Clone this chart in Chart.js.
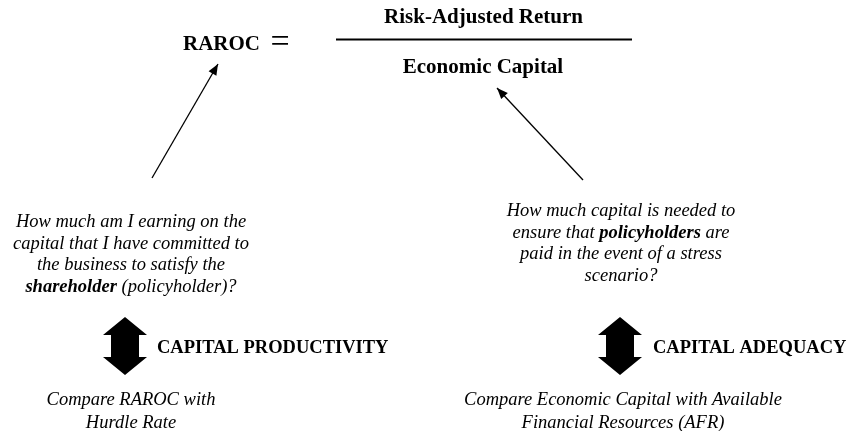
<!DOCTYPE html>
<html>
<head>
<meta charset="utf-8">
<script src="https://cdn.jsdelivr.net/npm/chart.js@4.4.0/dist/chart.umd.min.js"></script>
<style>
  html, body { margin: 0; padding: 0; background: #fff; }
  #wrap { width: 853px; height: 431px; }
</style>
</head>
<body>
<div id="wrap"><canvas id="raroc"></canvas></div>
<script>
// texts of the diagram
const formulaLeft = ['RAROC', '='];
const numerator = 'Risk-Adjusted Return';
const denominator = 'Economic Capital';
const questionLeft = [
    'How much am I earning on the',
    'capital that I have committed to',
    'the business to satisfy the',
    '**shareholder** (policyholder)?'
];
const questionRight = [
    'How much capital is needed to',
    'ensure that **policyholders** are',
    'paid in the event of a stress',
    'scenario?'
];
const measureLabels = ['CAPITAL PRODUCTIVITY', 'CAPITAL ADEQUACY'];
const compareLeft = ['Compare RAROC with', 'Hurdle Rate'];
const compareRight = ['Compare Economic Capital with Available', 'Financial Resources (AFR)'];

// pointer arrows (tail -> tip), in diagram units
const pointerLeft = [{ x: 152, y: 178 }, { x: 218, y: 64 }];
const pointerRight = [{ x: 583, y: 180 }, { x: 497, y: 88 }];

const serif = '"Liberation Serif", "Times New Roman", serif';

// draw a centred line that may contain **bold** parts
function drawRich(ctx, line, cx, y, size) {
    const parts = line.split('**');
    const fonts = parts.map((p, i) => (i % 2 ? 'italic bold ' : 'italic ') + size + 'px ' + serif);
    let total = 0;
    parts.forEach((p, i) => { ctx.font = fonts[i]; total += ctx.measureText(p).width; });
    let x = cx - total / 2;
    ctx.textAlign = 'left';
    parts.forEach((p, i) => {
        ctx.font = fonts[i];
        ctx.fillText(p, x, y);
        x += ctx.measureText(p).width;
    });
}

function arrowHead(ctx, from, to) {
    const a = Math.atan2(to.y - from.y, to.x - from.x);
    const len = 11, w = 4.5;
    ctx.beginPath();
    ctx.moveTo(to.x, to.y);
    ctx.lineTo(to.x - len * Math.cos(a) + w * Math.sin(a), to.y - len * Math.sin(a) - w * Math.cos(a));
    ctx.lineTo(to.x - len * Math.cos(a) - w * Math.sin(a), to.y - len * Math.sin(a) + w * Math.cos(a));
    ctx.closePath();
    ctx.fill();
}

function doubleArrow(ctx, xs, ys, cx, top, bottom) {
    const half = xs(cx + 22) - xs(cx), shaft = xs(cx + 14) - xs(cx);
    const c = xs(cx), t = ys(top), b = ys(bottom);
    const head = ys(top + 18) - t;
    ctx.beginPath();
    ctx.moveTo(c, t);
    ctx.lineTo(c + half, t + head);
    ctx.lineTo(c + shaft, t + head);
    ctx.lineTo(c + shaft, b - head);
    ctx.lineTo(c + half, b - head);
    ctx.lineTo(c, b);
    ctx.lineTo(c - half, b - head);
    ctx.lineTo(c - shaft, b - head);
    ctx.lineTo(c - shaft, t + head);
    ctx.lineTo(c - half, t + head);
    ctx.closePath();
    ctx.fill();
}

const diagramText = {
    id: 'diagramText',
    afterDatasetsDraw(chart) {
        const ctx = chart.ctx;
        const xs = v => chart.scales.x.getPixelForValue(v);
        const ys = v => chart.scales.y.getPixelForValue(v);
        ctx.save();
        ctx.fillStyle = '#000';
        ctx.strokeStyle = '#000';
        ctx.textBaseline = 'alphabetic';

        // formula
        ctx.font = 'bold 21px ' + serif;
        ctx.textAlign = 'left';
        ctx.fillText(formulaLeft[0], xs(183), ys(50));
        ctx.font = '34px ' + serif;
        ctx.textAlign = 'center';
        ctx.fillText(formulaLeft[1], xs(280), ys(52));
        ctx.font = 'bold 21px ' + serif;
        ctx.fillText(numerator, xs(483.5), ys(23));
        ctx.fillText(denominator, xs(483), ys(73));
        ctx.lineWidth = 2;
        ctx.beginPath();
        ctx.moveTo(xs(336), ys(39.5));
        ctx.lineTo(xs(632), ys(39.5));
        ctx.stroke();

        // arrow heads of the pointers
        [pointerLeft, pointerRight].forEach(p => {
            arrowHead(ctx, { x: xs(p[0].x), y: ys(p[0].y) }, { x: xs(p[1].x), y: ys(p[1].y) });
        });

        // questions
        questionLeft.forEach((l, i) => drawRich(ctx, l, xs(131), ys(227 + i * 21.5), 18.5));
        questionRight.forEach((l, i) => drawRich(ctx, l, xs(621), ys(216 + i * 21.5), 18.5));

        // double arrows and measures
        doubleArrow(ctx, xs, ys, 125, 317, 375);
        doubleArrow(ctx, xs, ys, 620, 317, 375);
        ctx.font = 'bold 18.5px ' + serif;
        ctx.textAlign = 'left';
        ctx.fillText(measureLabels[0], xs(157), ys(353));
        ctx.fillText(measureLabels[1], xs(653), ys(353));

        // comparisons
        compareLeft.forEach((l, i) => drawRich(ctx, l, xs(131), ys(405 + i * 23), 18.5));
        compareRight.forEach((l, i) => drawRich(ctx, l, xs(623), ys(405 + i * 23), 18.5));
        ctx.restore();
    }
};

new Chart(document.getElementById('raroc'), {
    type: 'scatter',
    data: {
        datasets: [
            { data: pointerLeft, showLine: true, borderColor: '#000', borderWidth: 1.3, pointRadius: 0 },
            { data: pointerRight, showLine: true, borderColor: '#000', borderWidth: 1.3, pointRadius: 0 }
        ]
    },
    options: {
        responsive: true,
        maintainAspectRatio: false,
        animation: false,
        events: [],
        layout: { padding: 0 },
        plugins: { legend: { display: false }, tooltip: { enabled: false } },
        scales: {
            x: { type: 'linear', min: 0, max: 853, display: false },
            y: { type: 'linear', min: 0, max: 431, reverse: true, display: false }
        }
    },
    plugins: [diagramText]
});
</script>
</body>
</html>
